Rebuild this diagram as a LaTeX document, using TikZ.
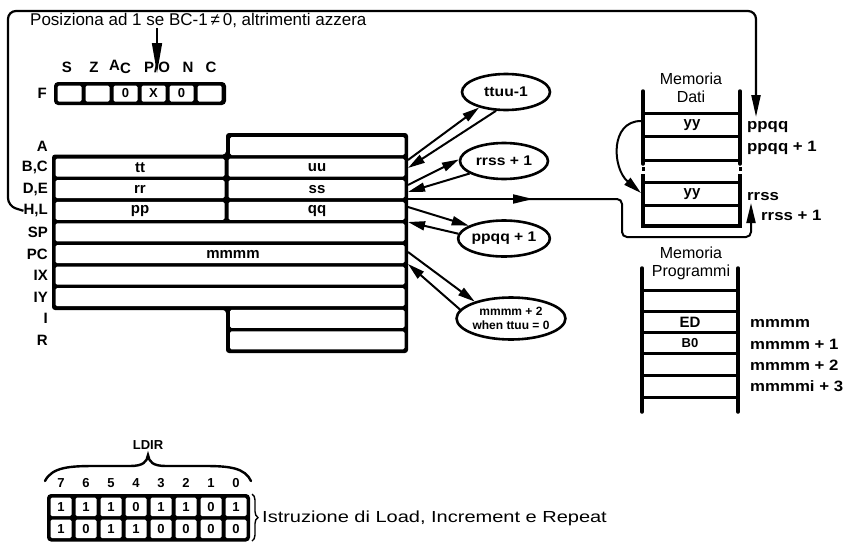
\documentclass[tikz,border=0pt]{standalone}
\usepackage{fontspec}
\setmainfont{Liberation Sans}
\newfontfamily\wide[FakeStretch=1.12]{Liberation Sans}
\newfontfamily\wider[FakeStretch=1.25]{Liberation Sans}
\usetikzlibrary{arrows.meta,shapes.geometric,decorations.pathreplacing}
\tikzset{
  conn/.style={line width=2pt},
  thk/.style={line width=2.2pt},
  bigtip/.style={-{Triangle[length=17pt,width=9pt]}},
  longtip/.style={-{Triangle[length=20pt,width=9pt]}},
  reglbl/.style={font=\bfseries\fontsize{15}{15}\selectfont, inner sep=0pt, anchor=east},
  celltxt/.style={font=\bfseries\fontsize{15}{15}\selectfont, inner sep=0pt},
  ell/.style={ellipse, draw, line width=2.6pt, inner sep=0pt, minimum width=88pt, minimum height=36pt, font=\wide\bfseries\fontsize{14}{14}\selectfont},
  memlbl/.style={font=\fontsize{16}{18}\selectfont, inner sep=0pt},
  addr/.style={font=\wide\bfseries\fontsize{15}{15}\selectfont, inner sep=0pt, anchor=west},
  memtxt/.style={font=\bfseries\fontsize{15}{15}\selectfont, inner sep=0pt},
  bittxt/.style={font=\bfseries\fontsize{13}{13}\selectfont, inner sep=0pt},
  flagtxt/.style={font=\bfseries\fontsize{15}{15}\selectfont, inner sep=0pt},
  wcell/.style={fill=white, rounded corners=1.5pt},
  ladder/.style={line width=3.5pt},
  rung/.style={line width=3pt},
}
\begin{document}
\begin{tikzpicture}[x=1pt,y=-1pt]
\fill[white] (0,0) rectangle (845,557);
\useasboundingbox (0,0) rectangle (845,557);

% ---------- title and loop ----------
\node[font=\fontsize{17}{17}\selectfont, inner sep=0pt, anchor=base west] (title) at (30,25) {Posiziona ad 1 se BC-1\,≠\,0, altrimenti azzera};
\coordinate (seB) at (157,28);
\coordinate (poT) at (157,73);
\draw[line width=1.6pt, -{Triangle[length=30pt,width=10pt]}] (seB) -- (poT);

% ---------- flags ----------
\node[flagtxt] (fS) at (67,67) {S};
\node[flagtxt] (fZ) at (94,67) {Z};
\node[flagtxt] (fA) at (120,67) {A\raisebox{-3.5pt}{C}};
\node[flagtxt] (fP) at (157,67) {P/O};
\node[flagtxt] (fN) at (188,67) {N};
\node[flagtxt] (fC) at (211,67) {C};
\node[reglbl] (F) at (47,93) {F};
\fill[rounded corners=4pt] (54,82) rectangle (226,105);
\foreach \i in {0,...,5}{
  \fill[wcell] (57.5+28*\i,85.5) rectangle (81.5+28*\i,101.5);
}
\foreach \i/\v in {2/0,3/X,4/0}{
  \node[bittxt] (fl\i) at (69.5+28*\i,93.5) {\v};
}

% ---------- register file ----------
\fill[rounded corners=3pt] (52,154.5) -- (226,154.5) -- (226,133) -- (408,133) -- (408,353) -- (226,353) -- (226,310) -- (52,310) -- cycle;
\foreach \i in {0,8,9}{
  \fill[wcell] (230,137+21.6*\i) rectangle (404.5,155+21.6*\i);
}
\foreach \i in {1,2,3}{
  \fill[wcell] (55.5,137+21.6*\i) rectangle (224.5,155+21.6*\i);
  \fill[wcell] (228.5,137+21.6*\i) rectangle (404.5,155+21.6*\i);
}
\foreach \i in {4,5,6,7}{
  \fill[wcell] (55.5,137+21.6*\i) rectangle (404.5,155+21.6*\i);
}
\foreach \i/\n/\t in {0/rA/A,1/rBC/{B,C},2/rDE/{D,E},3/rHL/{H,L},4/rSP/SP,5/rPC/PC,6/rIX/IX,7/rIY/IY,8/rI/I,9/rR/R}{
  \node[reglbl] (\n) at (48,146+21.6*\i) {\t};
}
\node[celltxt] (tt) at (140,167.6) {tt};
\node[celltxt] (uu) at (317,167.6) {uu};
\node[celltxt] (rr) at (140,189.2) {rr};
\node[celltxt] (ss) at (317,189.2) {ss};
\node[celltxt] (pp) at (140,210.8) {pp};
\node[celltxt] (qq) at (317,210.8) {qq};
\node[celltxt] (mm) at (233,254) {mmmm};

% loop line from H,L to data memory
\draw[thk, rounded corners=8pt, -{Triangle[length=22pt,width=9pt]}] (rHL.west) -- (8,206) -- (8,11) -- (756,11) -- (756,117);

% ---------- ellipses ----------
\node[ell] (e1) at (506,92) {ttuu-1};
\node[ell] (e2) at (504,161) {rrss + 1};
\node[ell] (e3) at (504,238.5) {ppqq + 1};
\node[ell, minimum width=92pt, minimum height=42pt, font=\bfseries\fontsize{12}{14}\selectfont, align=center] (e4) at (511,318.5) {mmmm + 2\\when ttuu = 0};

\coordinate (bc1) at (408,160);
\coordinate (bc2) at (408,168);
\coordinate (de1) at (408,185);
\coordinate (de2) at (408,192);
\coordinate (de3) at (408,199);
\coordinate (hl1) at (408,207);
\coordinate (hl2) at (408,222);
\coordinate (pc1) at (408,252);
\coordinate (pc2) at (408,264);

\draw[conn, bigtip] (bc1) -- (e1.210);
\draw[conn, bigtip] (e1.242) -- (bc2);
\draw[conn, bigtip] (de1) -- (e2.178);
\draw[conn, bigtip] (e2.200) -- (de2);
\draw[conn, bigtip] (hl1) -- (e3.160);
\draw[conn, bigtip] (e3.174) -- (hl2);
\draw[conn, bigtip] (pc1) -- (e4.155);
\draw[conn, bigtip] (e4.170) -- (pc2);

% DE -> memory (rrss)
\coordinate (hmid) at (533,199);
\coordinate (hmid2) at (522,199);
\coordinate (rrssT) at (751,203);
\draw[conn, longtip] (de3) -- (hmid);
\draw[conn, rounded corners=5pt, longtip] (hmid2) -- (622,199) -- (622,237) -- (751,237) -- (rrssT);

% ---------- data memory ----------
\node[memlbl, align=center] (md) at (691,88) {Memoria\\Dati};
\draw[ladder, line cap=round] (643,91) -- (643,164);
\draw[ladder, line cap=round] (740,91) -- (740,164);
\draw[ladder] (643,174) -- (643,226) -- (740,226) -- (740,174);
\fill (641.5,167) rectangle (644.5,170.5);
\fill (738.5,167) rectangle (741.5,170.5);
\foreach \y in {113,136,160,182,205}{ \draw[rung] (643,\y) -- (740,\y); }
\node[memtxt] (yy1) at (692,125) {yy};
\node[memtxt] (yy2) at (692,194) {yy};
\node[addr] (a1) at (747,127) {ppqq};
\node[addr] (a2) at (747,148) {ppqq + 1};
\node[addr] (a3) at (747,197) {rrss};
\node[addr] (a4) at (761,215) {rrss + 1};
\coordinate (dm1) at (641,121);
\coordinate (dm2) at (641,193);
\draw[conn, -{Triangle[length=18pt,width=9pt]}] (dm1) .. controls (610,121) and (612,168) .. (dm2);

% ---------- program memory ----------
\node[memlbl, align=center] (mp) at (691,263) {Memoria\\Programmi};
\draw[ladder, line cap=round] (642,268) -- (642,412);
\draw[ladder, line cap=round] (738,268) -- (738,412);
\foreach \y in {290,311,332,353,375,397}{ \draw[rung] (642,\y) -- (738,\y); }
\node[memtxt] (ed) at (690,322) {ED};
\node[memtxt, font=\bfseries\fontsize{13}{13}\selectfont] (b0) at (690,343) {B0};
\node[addr] (m0) at (750,323) {mmmm};
\node[addr] (m1) at (750,344) {mmmm + 1};
\node[addr] (m2) at (750,365) {mmmm + 2};
\node[addr] (m3) at (750,386) {mmmmi + 3};

% ---------- LDIR opcode ----------
\node[bittxt] (ldir) at (148,445) {LDIR};
\draw[line width=2.4pt, line cap=round] (45,481) .. controls (52,467) and (70,466) .. (95,466) -- (130,466) .. controls (143,466) and (147,462) .. (148,455) .. controls (149,462) and (153,466) .. (166,466) -- (205,466) .. controls (230,466) and (245,468) .. (251,481);
\foreach \i/\b in {0/7,1/6,2/5,3/4,4/3,5/2,6/1,7/0}{
  \node[bittxt] (n\b) at (61+25*\i,483) {\b};
}
\fill[rounded corners=4pt] (47,494) rectangle (250,541.5);
\foreach \i/\u/\l in {0/1/1,1/1/0,2/1/1,3/0/1,4/1/0,5/1/0,6/0/0,7/1/0}{
  \fill[wcell] (50.5+25*\i,497.5) rectangle (71.5+25*\i,516);
  \fill[wcell] (50.5+25*\i,519.5) rectangle (71.5+25*\i,538);
  \node[bittxt] (u\i) at (61+25*\i,507) {\u};
  \node[bittxt] (l\i) at (61+25*\i,529) {\l};
}
\draw[line width=1.4pt, decorate, decoration={brace, amplitude=6pt}] (252,494) -- (252,541);
\node[font=\wider\fontsize{16}{16}\selectfont, inner sep=0pt, anchor=west] (istr) at (262,518) {Istruzione di Load, Increment e Repeat};
\end{tikzpicture}
\end{document}
